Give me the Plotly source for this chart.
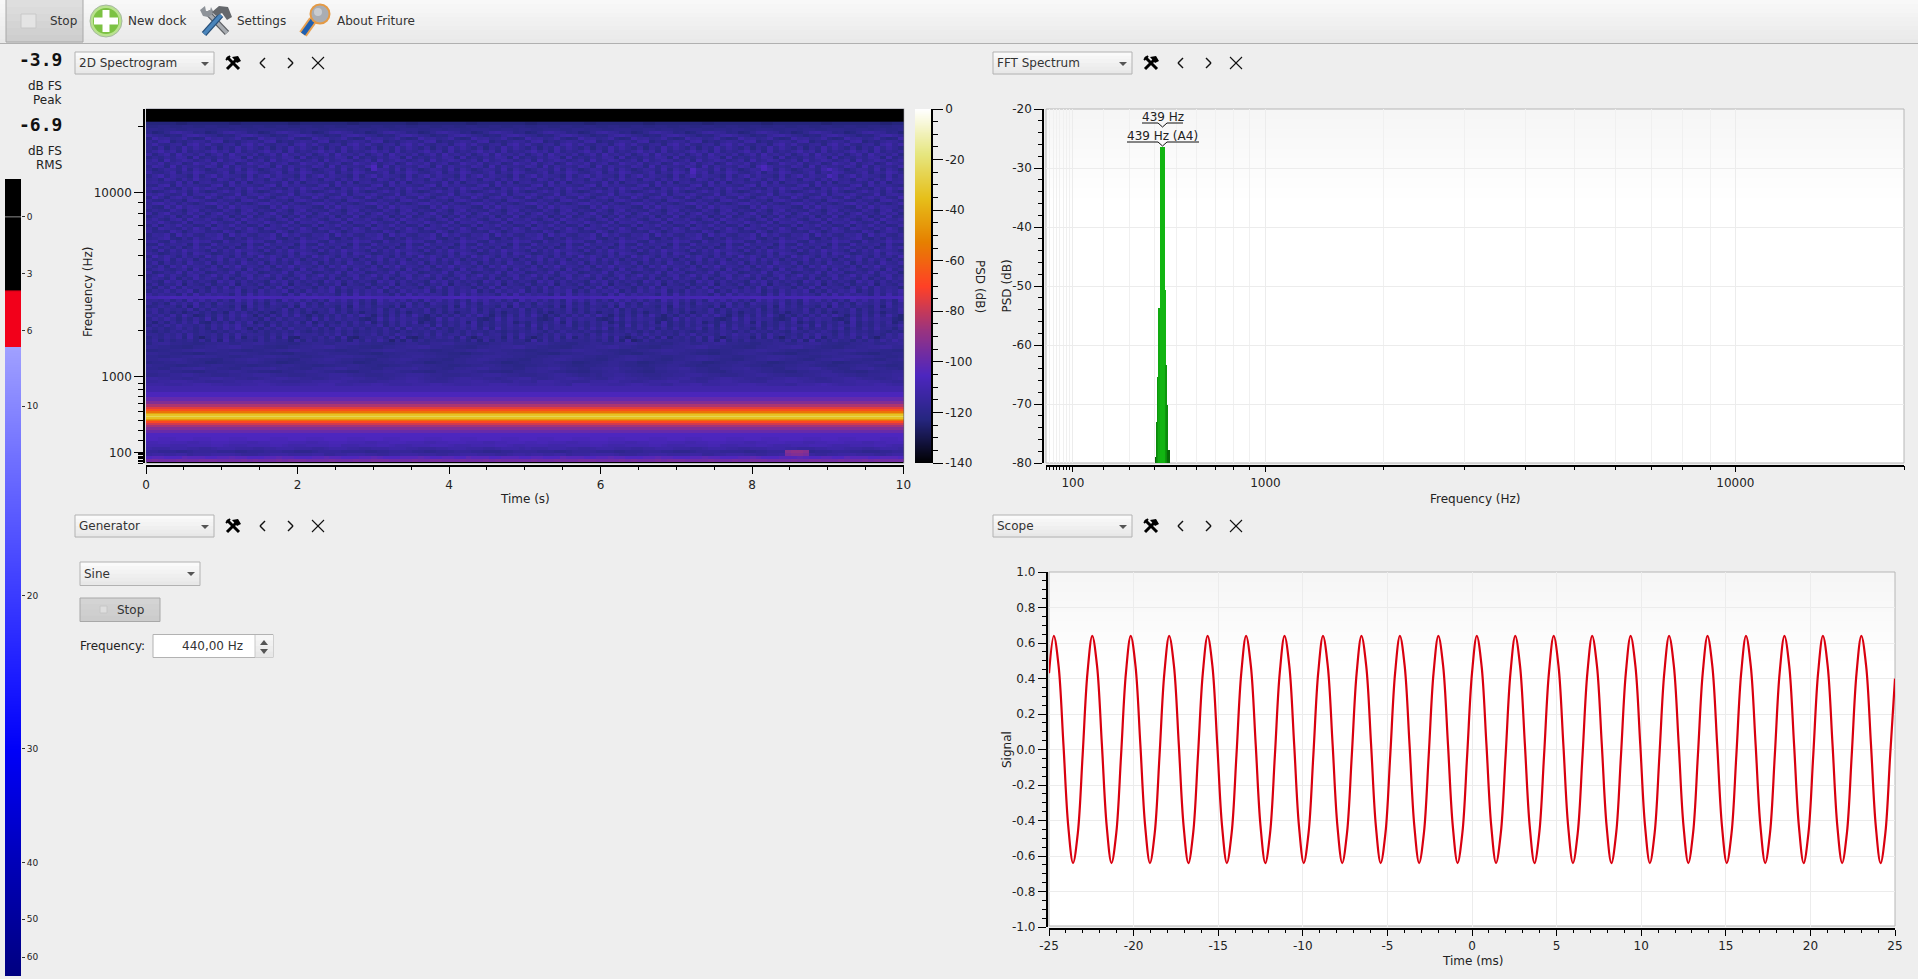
import math
import plotly.graph_objects as go

W, H = 1918, 979

# level meter: label, position on the meter scale
meter_labels = ["0", "3", "6", "10", "20", "30", "40", "50", "60"]
meter_scale = [0, 3, 6, 10, 20, 28.1, 34.1, 37.1, 39.1]
meter_peak = 3.9
meter_rms = 6.9
meter_grad = [6.9, 8, 10, 13, 16, 20, 24, 28, 31, 34, 37, 40.1]

# spectrogram rows (Hz, dB), low to high. The digit strings are a by-eye estimate
# of the noise mottling, one digit per time block, 5 = row level
spec_low_hz = [27, 49, 73, 96, 120, 146, 171, 198]
spec_low_db = [-97, -103, -111, -114, -112, -110, -109, -107]
spec_low_ripple = [
    "5655565556665555656555656665555655565566655556556655565556565555",
    "4554446555445565544455655444556554445565444555654455446555445554",
    "3443344233344443222334443333442233444332233444333223344433322344",
    "4433322344443332233344433222344443333223344443322333444332223344",
    "5444555443345554443344555444334555443344455544333445554443345554",
    "5555444555566544455556654445555664445556654445556665444555566544",
    "5566555445566655544556665554455666555445566655544556665554455666",
    "6655566655566655566665556665556666555666555666655566655566665556",
]
spec_band_hz = [234, 271, 301, 331, 352, 374, 390, 405, 422, 440, 457, 474, 491, 509, 534, 558, 597, 636, 690, 760]
spec_band_db = [-105, -99, -93, -86, -78, -68, -58, -45, -34, -25, -33, -43, -56, -66, -75, -84, -93, -100, -106, -111]
# noise rows sit every 35 mel from 900 mel up
spec_noise_db = [-113, -114, -115, -116, -117, -117, -118, -118, -118, -117, -118, -118, -117, -118, -118, -118,
                 -117, -118, -117, -117, -118, -117, -117, -118, -117, -118, -117, -116, -110, -116, -117, -117,
                 -118, -117, -117, -116, -117, -117, -116, -117, -117, -116, -117, -116, -117, -117, -116, -117,
                 -116, -117, -116, -117, -116, -116, -117, -116, -117, -116, -116, -117, -116, -116, -117, -116,
                 -116, -117, -116, -116, -116, -117, -116, -116, -116, -117, -116, -116, -117, -116, -117, -117,
                 -117, -118, -119, -120, -123, -128]
spec_noise_ripple = [
    "55544455666554445556654444555666444555665444455566554445556665544455544366655544456654433555664445556665544433555676544455566544",
    "44556665443334455566544333445556654433344555665433345556654433544366654433355566443345556644433556654433355566544333445566554433",
    "66554433455665544334556655443345566554433455665443345665544345566433455665443356655443345566433456655443345566554334556654433456",
    "33445566544333445566654433344556665443334455666544333445566654433344566543343556654433344556665443334556654433344566654433445566",
    "55664433224455665443322445566544332244556654433224455665443322445566544332244566544322445566544332455665443322445566443322445566",
    "44335566775544335566675544335566775544335566675544335566775544335566775443355667554433556677544335566755443355667754433566755443",
    "65544334455665544334455665443344556654433445566554433445566544334455665433445566544334556654433445566544334455665443344566544334",
    "34455665442234455665442234455666544223445566544223445566654422344556654422344566544223445665442234556654422344566544223445566544",
    "55667765544335566776554433556677655443355667765544335566776554433556677655443356677655433556677654433556677655433566776554433556",
    "44334455665544334455665544334455666554433445566554433445566655443344556655443344566554433445566554433445566655443344556665544334",
    "66554433224455666554433224455665554433224455666554433224455665554433224455666554332244566655433224456665543322445566655433224455",
    "33445566776655443344556677665544334455667766554433445566776655443344556677665544334556677665544334455667766544334455667766554433",
    "55443322445566775544332244556677554433224455667755443322445566775544332244556677554332244556677554433224455667755433224455667755",
    "36775544335566446677554433556644667755443355664466775544335566446677544335566446677554433566446677554433556644667754433556644667",
    "47263546372819364527364518273645261738495061726354453627182637451928374655463728190273645546372819263745546372819263745263748596",
    "36475829304738291647382910564738291046573829103647582930475618293047382916475829304738291647382930475618293047382916475829304758",
    "55364728354627384655263748556374826354726385463728356274835627384526374856273846527384635274836527485637284635274856273846352748",
    "42536475364253647526354637425364736254637426354637526374536425364752637453642536475263745364253647526374536427536475263745364253",
    "63524736251738495061637284537261847362537281946372514637281936452718364527384916253748162735481627384516273849162537481627384516",
    "26374855362748593647182635473816472635481627354819263748152637481927364815263748192736481527364819273648152736481927364815273648",
    "51627384921637284915263748291635273849162738491527364819263748152736481926374815273648192637481527364819263748152736481926374815",
    "37485162739182736451827364519283746510293847561029384756102938475610293847561029384756102938475610293847561029384756102938475610",
    "64738295016273849506172839405162738495061728394051627384950617283940516273849506172839405162738495061728394051627384950617283940",
    "48362514736251847362514837261548372615483726154837261548372615483726154837261548372615483726154837261548372615483726154837261548",
    "57264538162745381627453816274538162745381627453816274538162745381627453816274538162745381627453816274538162745381627453816274538",
    "34756281947365281947365281947365281947365281947365281947365281947365281947365281947365281947365281947365281947365281947365281947",
    "62518473926185473926185473926185473926185473926185473926185473926185473926185473926185473926185473926185473926185473926185473926",
    "45372619483726194837261948372619483726194837261948372619483726194837261948372619483726194837261948372619483726194837261948372619",
    "55667665566676655667766556667665566677665566676655667766556667665566677665566676655667766556667665566677665566676655667766556667",
    "73645182937465182937465182937465182937465182937465182937465182937465182937465182937465182937465182937465182937465182937465182937",
    "26483759162847591628475916284759162847591628475916284759162847591628475916284759162847591628475916284759162847591628475916284759",
    "51739284651739284651739284651739284651739284651739284651739284651739284651739284651739284651739284651739284651739284651739284651",
    "38264917538264917538264917538264917538264917538264917538264917538264917538264917538264917538264917538264917538264917538264917538",
    "64195827364195827364195827364195827364195827364195827364195827364195827364195827364195827364195827364195827364195827364195827364",
    "47528163947528163947528163947528163947528163947528163947528163947528163947528163947528163947528163947528163947528163947528163947",
    "25937416825937416825937416825937416825937416825937416825937416825937416825937416825937416825937416825937416825937416825937416825",
    "71364928571364928571364928571364928571364928571364928571364928571364928571364928571364928571364928571364928571364928571364928571",
    "36842571936842571936842571936842571936842571936842571936842571936842571936842571936842571936842571936842571936842571936842571936",
    "52718493652718493652718493652718493652718493652718493652718493652718493652718493652718493652718493652718493652718493652718493652",
    "48173629548173629548173629548173629548173629548173629548173629548173629548173629548173629548173629548173629548173629548173629548",
    "63592847163592847163592847163592847163592847163592847163592847163592847163592847163592847163592847163592847163592847163592847163",
    "29485173629485173629485173629485173629485173629485173629485173629485173629485173629485173629485173629485173629485173629485173629",
    "75136482975136482975136482975136482975136482975136482975136482975136482975136482975136482975136482975136482975136482975136482975",
    "41827395641827395641827395641827395641827395641827395641827395641827395641827395641827395641827395641827395641827395641827395641",
    "58362714958362714958362714958362714958362714958362714958362714958362714958362714958362714958362714958362714958362714958362714958",
    "32946571832946571832946571832946571832946571832946571832946571832946571832946571832946571832946571832946571832946571832946571832",
    "67218345967218345967218345967218345967218345967218345967218345967218345967218345967218345967218345967218345967218345967218345967",
    "45793162845793162845793162845793162845793162845793162845793162845793162845793162845793162845793162845793162845793162845793162845",
    "26581947326581947326581947326581947326581947326581947326581947326581947326581947326581947326581947326581947326581947326581947326",
    "73429615873429615873429615873429615873429615873429615873429615873429615873429615873429615873429615873429615873429615873429615873",
    "51864273951864273951864273951864273951864273951864273951864273951864273951864273951864273951864273951864273951864273951864273951",
    "38175946238175946238175946238175946238175946238175946238175946238175946238175946238175946238175946238175946238175946238175946238",
    "64952381764952381764952381764952381764952381764952381764952381764952381764952381764952381764952381764952381764952381764952381764",
    "47316829547316829547316829547316829547316829547316829547316829547316829547316829547316829547316829547316829547316829547316829547",
    "25748163925748163925748163925748163925748163925748163925748163925748163925748163925748163925748163925748163925748163925748163925",
    "71693528471693528471693528471693528471693528471693528471693528471693528471693528471693528471693528471693528471693528471693528471",
    "36428517936428517936428517936428517936428517936428517936428517936428517936428517936428517936428517936428517936428517936428517936",
    "52183947652183947652183947652183947652183947652183947652183947652183947652183947652183947652183947652183947652183947652183947652",
    "48957263148957263148957263148957263148957263148957263148957263148957263148957263148957263148957263148957263148957263148957263148",
    "63274518963274518963274518963274518963274518963274518963274518963274518963274518963274518963274518963274518963274518963274518963",
    "29516847329516847329516847329516847329516847329516847329516847329516847329516847329516847329516847329516847329516847329516847329",
    "75842391675842391675842391675842391675842391675842391675842391675842391675842391675842391675842391675842391675842391675842391675",
    "41369572841369572841369572841369572841369572841369572841369572841369572841369572841369572841369572841369572841369572841369572841",
    "58624173958624173958624173958624173958624173958624173958624173958624173958624173958624173958624173958624173958624173958624173958",
    "32791846532791846532791846532791846532791846532791846532791846532791846532791846532791846532791846532791846532791846532791846532",
    "67453928167453928167453928167453928167453928167453928167453928167453928167453928167453928167453928167453928167453928167453928167",
    "45186273945186273945186273945186273945186273945186273945186273945186273945186273945186273945186273945186273945186273945186273945",
    "26937541826937541826937541826937541826937541826937541826937541826937541826937541826937541826937541826937541826937541826937541826",
    "73258164973258164973258164973258164973258164973258164973258164973258164973258164973258164973258164973258164973258164973258164973",
    "51476392851476392851476392851476392851476392851476392851476392851476392851476392851476392851476392851476392851476392851476392851",
    "38619274538619274538619274538619274538619274538619274538619274538619274538619274538619274538619274538619274538619274538619274538",
    "64825713964825713964825713964825713964825713964825713964825713964825713964825713964825713964825713964825713964825713964825713964",
    "47193586247193586247193586247193586247193586247193586247193586247193586247193586247193586247193586247193586247193586247193586247",
    "25364871925364871925364871925364871925364871925364871925364871925364871925364871925364871925364871925364871925364871925364871925",
    "71582946371582946371582946371582946371582946371582946371582946371582946371582946371582946371582946371582946371582946371582946371",
    "36947182536947182536947182536947182536947182536947182536947182536947182536947182536947182536947182536947182536947182536947182536",
    "52716394852716394852716394852716394852716394852716394852716394852716394852716394852716394852716394852716394852716394852716394852",
    "48325617948325617948325617948325617948325617948325617948325617948325617948325617948325617948325617948325617948325617948325617948",
    "63891425763891425763891425763891425763891425763891425763891425763891425763891425763891425763891425763891425763891425763891425763",
    "29674583129674583129674583129674583129674583129674583129674583129674583129674583129674583129674583129674583129674583129674583129",
    "75413268975413268975413268975413268975413268975413268975413268975413268975413268975413268975413268975413268975413268975413268975",
    "41258976341258976341258976341258976341258976341258976341258976341258976341258976341258976341258976341258976341258976341258976341",
    "55455445554455455445554455455445554455455445554455455445554455455445554455455445554455455445554455455445554455455445554455455445",
    "44554455445544554455445544554455445544554455445544554455445544554455445544554455445544554455445544554455445544554455445544554455",
    "55555445555555445555555544555555554455555555445555555544555555554455555555445555555544555555554455555555445555555544555555554455",
]
spec_top_hz = [21200, 22000, 23000, 24000]
spec_top_db = [-135, -140, -140, -140]
spec_cols = 128
# faint bursts and the low hum blob: time (s), frequency (Hz), level (dB)
event_t = [3.0, 3.0, 7.2, 7.2, 8.2, 8.2, 9.0, 9.0, 8.5, 8.58, 8.66, 8.74, 8.5, 8.58, 8.66, 8.74]
event_hz = [12900, 12400, 12500, 12000, 12900, 12400, 12400, 11900, 96, 96, 96, 96, 73, 73, 73, 73]
event_db = [-106, -107, -106, -107, -106, -107, -106, -107, -92, -90, -90, -92, -95, -93, -93, -95]

cbar_db = [-140, -135, -130, -125, -120, -115, -110, -105, -100, -95, -90, -85, -80, -75, -70,
           -65, -60, -55, -50, -45, -40, -35, -30, -25, -20, -15, -10, -5, 0]

# FFT bars: bin low edge, high edge (Hz), level (dB)
fft_lo = [401, 410, 416, 419, 426.5, 447, 450.5, 453.5, 460.5]
fft_hi = [410, 416, 419, 426.5, 447, 450.5, 453.5, 460.5, 468]
fft_db = [-79, -73, -65.4, -53.7, -26.4, -50.7, -63.4, -70.2, -77.8]

freq_major = [100, 1000, 10000]
freq_minor = [20, 30, 40, 50, 60, 70, 80, 90, 200, 300, 400, 500, 600, 700, 800, 900,
              2000, 3000, 4000, 5000, 6000, 7000, 8000, 9000, 20000]

# scope trace, one sample every 0.2841 ms starting at -25 ms
scope_dt = 0.28409
scope_y = [
    0.43, 0.64, 0.47, 0.03, -0.43, -0.64, -0.47, -0.03,
    0.43, 0.64, 0.47, 0.03, -0.43, -0.64, -0.47, -0.03,
    0.43, 0.64, 0.47, 0.03, -0.43, -0.64, -0.47, -0.03,
    0.43, 0.64, 0.47, 0.03, -0.43, -0.64, -0.47, -0.03,
    0.43, 0.64, 0.47, 0.03, -0.43, -0.64, -0.47, -0.03,
    0.43, 0.64, 0.47, 0.03, -0.43, -0.64, -0.47, -0.03,
    0.43, 0.64, 0.47, 0.03, -0.43, -0.64, -0.47, -0.03,
    0.43, 0.64, 0.47, 0.03, -0.43, -0.64, -0.47, -0.03,
    0.43, 0.64, 0.47, 0.03, -0.43, -0.64, -0.47, -0.03,
    0.43, 0.64, 0.47, 0.03, -0.43, -0.64, -0.47, -0.03,
    0.43, 0.64, 0.47, 0.03, -0.43, -0.64, -0.47, -0.03,
    0.43, 0.64, 0.47, 0.03, -0.43, -0.64, -0.47, -0.03,
    0.43, 0.64, 0.47, 0.03, -0.43, -0.64, -0.47, -0.03,
    0.43, 0.64, 0.47, 0.03, -0.43, -0.64, -0.47, -0.03,
    0.43, 0.64, 0.47, 0.03, -0.43, -0.64, -0.47, -0.03,
    0.43, 0.64, 0.47, 0.03, -0.43, -0.64, -0.47, -0.03,
    0.43, 0.64, 0.47, 0.03, -0.43, -0.64, -0.47, -0.03,
    0.43, 0.64, 0.47, 0.03, -0.43, -0.64, -0.47, -0.03,
    0.43, 0.64, 0.47, 0.03, -0.43, -0.64, -0.47, -0.03,
    0.43, 0.64, 0.47, 0.03, -0.43, -0.64, -0.47, -0.03,
    0.43, 0.64, 0.47, 0.03, -0.43, -0.64, -0.47, -0.03,
    0.43, 0.64, 0.47, 0.03, -0.43, -0.64, -0.47, -0.03,
    0.40,
]

FONT = "DejaVu Sans"
MONO = "DejaVu Sans Mono"
INK = "#222222"
BG = "#eeeeee"

CMRMAP = [[0, "rgb(0,0,0)"], [0.125, "rgb(38,38,128)"], [0.25, "rgb(77,38,191)"],
          [0.375, "rgb(153,51,128)"], [0.5, "rgb(255,64,38)"], [0.625, "rgb(230,128,0)"],
          [0.75, "rgb(230,191,26)"], [0.875, "rgb(230,230,128)"], [1, "rgb(255,255,255)"]]


def mel(f):
    return 2595 * math.log10(1 + f / 700)


def fx(x):
    return x / W


def fy(y):
    return 1 - y / H


shapes = []
notes = []


def box(x0, y0, x1, y1, fill=None, line=None, layer="below"):
    shapes.append(dict(type="rect", xref="paper", yref="paper", x0=fx(x0), x1=fx(x1), y0=fy(y0), y1=fy(y1),
                       fillcolor=fill, line=dict(color=line, width=1 if line else 0), layer=layer))


def seg(x0, y0, x1, y1, color, width=1, layer="below"):
    shapes.append(dict(type="line", xref="paper", yref="paper", x0=fx(x0), x1=fx(x1), y0=fy(y0), y1=fy(y1),
                       line=dict(color=color, width=width), layer=layer))


def poly(points, fill, layer="below"):
    d = "M" + "L".join(f"{fx(x):.5f},{fy(y):.5f}" for x, y in points) + "Z"
    shapes.append(dict(type="path", xref="paper", yref="paper", path=d, fillcolor=fill,
                       line=dict(width=0), layer=layer))


def disc(cx, cy, r, fill, line=None, width=1):
    shapes.append(dict(type="circle", xref="paper", yref="paper", x0=fx(cx - r), x1=fx(cx + r),
                       y0=fy(cy - r), y1=fy(cy + r), fillcolor=fill,
                       line=dict(color=line, width=width if line else 0), layer="below"))


def mix(a, b, t):
    return "rgb(%d,%d,%d)" % tuple(round(p + (q - p) * t) for p, q in zip(a, b))


def vgrad(x0, y0, x1, y1, top, bottom, steps=8):
    for i in range(steps):
        box(x0, y0 + (y1 - y0) * i / steps, x1, y0 + (y1 - y0) * (i + 1) / steps + 0.5,
            mix(top, bottom, i / max(steps - 1, 1)))


def label(x, y, text, size=12, anchor="left", color=INK, angle=0, family=FONT):
    notes.append(dict(xref="paper", yref="paper", x=fx(x), y=fy(y), text=text, showarrow=False,
                      xanchor=anchor, yanchor="middle", textangle=angle, borderpad=0, borderwidth=0,
                      font=dict(family=family, size=size, color=color)))


def combo(x0, y0, x1, y1, text):
    vgrad(x0, y0, x1, y1, (250, 250, 250), (232, 232, 232), 6)
    box(x0, y0, x1, y1, None, "#b2b2b2")
    poly([(x1 - 13, y0 + 10), (x1 - 5, y0 + 10), (x1 - 9, y0 + 14)], "#555555")
    label(x0 + 4, (y0 + y1) / 2, text, 12, color="#333333")


def hammer(cx, cy):
    seg(cx - 6, cy + 6, cx + 3, cy - 3, "black", 3)
    seg(cx - 6, cy - 6, cx + 6, cy + 6, "black", 3)
    poly([(cx - 1, cy - 6), (cx + 5, cy - 7), (cx + 8, cy - 2), (cx + 4, cy)], "black")
    seg(cx - 7, cy - 3, cx - 3, cy - 7, "black", 2)


def dock_header(x0, y0, text):
    combo(x0, y0, x0 + 139, y0 + 22, text)
    cy = y0 + 11
    hammer(x0 + 158, cy)
    seg(x0 + 190, cy - 5, x0 + 185, cy, "#111111", 1.4)
    seg(x0 + 185, cy, x0 + 190, cy + 5, "#111111", 1.4)
    seg(x0 + 213, cy - 5, x0 + 218, cy, "#111111", 1.4)
    seg(x0 + 218, cy, x0 + 213, cy + 5, "#111111", 1.4)
    seg(x0 + 237, cy - 6, x0 + 249, cy + 6, "#111111", 1.1)
    seg(x0 + 249, cy - 6, x0 + 237, cy + 6, "#111111", 1.1)


# toolbar
vgrad(0, 0, W, 43, (248, 248, 248), (233, 233, 233), 10)
seg(0, 43.5, W, 43.5, "#b0b0b0")
vgrad(6, 0, 83, 42, (222, 222, 222), (206, 206, 206), 6)
box(6, -1, 83, 42, None, "#a8a8a8")
box(21, 14, 36, 28, "#e4e4e4", "#c8c8c8")
label(50, 21, "Stop", 12, color="#333333")
disc(106, 21, 16, "#b9e28e", "#a6b8a0", 1)
disc(106, 21, 13, "#7cc243")
box(94, 17.5, 118, 24.5, "white")
box(102.5, 10, 109.5, 32, "white")
label(128, 21, "New dock", 12, color="#333333")
# settings icon: wrench behind, hammer in front
seg(207, 12, 227, 33, "#5c5f63", 6)
seg(207, 12, 227, 33, "#a7abb0", 3.5)
poly([(200, 10), (205, 6), (206, 11), (210, 11), (211, 7), (214, 13), (208, 17), (203, 16)], "#8e9399")
seg(204, 34, 221, 15, "#274f78", 6)
seg(204, 34, 221, 15, "#4a85bb", 3.5)
poly([(212, 12), (219, 6), (228, 7), (232, 17), (227, 20), (222, 13), (216, 16)], "#65686c")
label(237, 21, "Settings", 12, color="#333333")
seg(303, 34, 313, 20, "#e8a050", 9)
seg(303, 34, 313, 20, "#1f5fb0", 5)
disc(320, 14, 9.5, "#a9adb3", "#e49a45", 2)
disc(318, 12, 4, "#c9ccd0")
label(337, 21, "About Friture", 12, color="#333333")

# level readout
label(62, 60, "<b>-3.9</b>", 18, "right", "#111111", family=MONO)
label(62, 86, "dB FS", 12, "right")
label(62, 100, "Peak", 12, "right")
label(62, 125, "<b>-6.9</b>", 18, "right", "#111111", family=MONO)
label(62, 151, "dB FS", 12, "right")
label(62, 165, "RMS", 12, "right")

dock_header(75, 52, "2D Spectrogram")
dock_header(993, 52, "FFT Spectrum")
dock_header(75, 515, "Generator")
dock_header(993, 515, "Scope")

# generator panel
combo(80, 562, 200, 585.5, "Sine")
vgrad(80, 598, 160, 621.5, (212, 212, 212), (204, 204, 204), 4)
box(80, 598, 160, 621.5, None, "#a8a8a8")
box(100, 606, 107, 613, "#dedede", "#c6c6c6")
label(117, 610, "Stop", 12, color="#333333")
label(80, 646, "Frequency:", 12)
box(153, 634.5, 273, 657.5, "white", "#b2b2b2")
vgrad(255, 635, 273, 657, (246, 246, 246), (232, 232, 232), 4)
seg(255, 635, 255, 657, "#c8c8c8")
poly([(260, 645), (268, 645), (264, 640)], "#555555")
poly([(260, 649), (268, 649), (264, 654)], "#555555")
label(243, 646, "440,00 Hz", 12, "right", "#333333")

# plot backgrounds
box(146, 108.5, 904, 463.5, "#000000", "#c4c4cc")
for x0, y0, x1, y1 in [(1046, 109, 1904, 463), (1049, 572, 1895, 926)]:
    box(x0, y0, x1, y1, "white")
    vgrad(x0, y0, x1, y0 + (y1 - y0) * 0.28, (246, 246, 246), (255, 255, 255), 20)
    box(x0, y0, x1, y1, None, "#b6b6b6")

# axis titles
label(88, 292, "Frequency (Hz)", 12, "center", angle=-90)
label(525, 499, "Time (s)", 12, "center")
label(980, 286, "PSD (dB)", 12, "center", angle=90)
label(1006.5, 286, "PSD (dB)", 12, "center", angle=-90)
label(1475, 499, "Frequency (Hz)", 12, "center")
label(1007, 749, "Signal", 12, "center", angle=-90)
label(1473, 961, "Time (ms)", 12, "center")

# peak callouts on the FFT
label(1162.5, 117, "439 Hz", 12, "center")
label(1162.5, 136, "439 Hz (A4)", 12, "center")
for x0, x1, y in [(1142, 1183, 123), (1127, 1199, 142)]:
    seg(x0, y, 1158, y, "#111111", 1, "above")
    seg(1167, y, x1, y, "#111111", 1, "above")
    seg(1158, y, 1162.5, y + 4, "#111111", 1, "above")
    seg(1162.5, y + 4, 1167, y, "#111111", 1, "above")

# build the spectrogram matrix from the rows above
spec_mel = [mel(f) for f in spec_low_hz + spec_band_hz]
spec_mel += [900 + 35 * i for i in range(len(spec_noise_db))]
spec_mel += [mel(f) for f in spec_top_hz]
spec_z = []
for base, s in zip(spec_low_db, spec_low_ripple):
    spec_z.append([base + (int(c) - 5) * 1.5 for c in (s * 2)[:spec_cols]])
for base in spec_band_db:
    spec_z.append([base] * spec_cols)
for base, s in zip(spec_noise_db, spec_noise_ripple):
    spec_z.append([base + (int(c) - 5) * 1.3 for c in (s * 2)[:spec_cols]])
for base in spec_top_db:
    spec_z.append([base] * spec_cols)
for t, hz, db in zip(event_t, event_hz, event_db):
    row = min(range(len(spec_mel)), key=lambda i: abs(spec_mel[i] - mel(hz)))
    spec_z[row][int(t / 10 * spec_cols)] = db

fig = go.Figure()

fig.add_trace(go.Heatmap(z=spec_z, y=spec_mel, x0=10 / spec_cols / 2, dx=10 / spec_cols,
                         zmin=-140, zmax=0, colorscale=CMRMAP, showscale=False, hoverinfo="skip",
                         xaxis="x", yaxis="y"))
fig.add_trace(go.Heatmap(z=[[d, d] for d in cbar_db], y=cbar_db, x=[0, 1], zmin=-140, zmax=0, colorscale=CMRMAP,
                         zsmooth="best", showscale=False, hoverinfo="skip", xaxis="x2", yaxis="y2"))
fig.add_trace(go.Bar(x=[(mel(a) + mel(b)) / 2 for a, b in zip(fft_lo, fft_hi)],
                     width=[mel(b) - mel(a) for a, b in zip(fft_lo, fft_hi)],
                     y=[d + 80 for d in fft_db], base=-80,
                     marker=dict(color=fft_db, cmin=-80, cmax=-50, line=dict(width=0),
                                 colorscale=[[0, "#075c07"], [0.25, "#0a8a0a"], [0.8, "#0fa30f"], [1, "#12b512"]]),
                     hoverinfo="skip", xaxis="x3", yaxis="y3"))
fig.add_trace(go.Scatter(x=[-25 + i * scope_dt for i in range(len(scope_y))], y=scope_y, mode="lines",
                         line=dict(color="#d9000f", width=2.2, shape="spline", smoothing=1),
                         hoverinfo="skip", xaxis="x4", yaxis="y4"))
fig.add_trace(go.Heatmap(z=[[p, p] for p in meter_grad], y=meter_grad, x=[0, 1], zsmooth="best", showscale=False,
                         zmin=6.9, zmax=40.1, hoverinfo="skip", xaxis="x5", yaxis="y5",
                         colorscale=[[0, "#a0a0ff"], [0.18, "#6f6fff"], [0.53, "#1a1aff"], [0.64, "#0000f8"],
                                     [0.82, "#0000b8"], [1, "#000080"]]))
fig.add_trace(go.Bar(x=[0.5, 0.5], y=[meter_peak + 2, meter_rms - meter_peak], base=[-2, meter_peak], width=1,
                     marker=dict(color=["#000000", "#f2001a"], line=dict(width=0)),
                     hoverinfo="skip", xaxis="x5", yaxis="y5"))

shapes.append(dict(type="line", xref="x5", yref="y5", x0=0, x1=1, y0=0, y1=0, line=dict(color="#8c8c8c", width=1)))
shapes.append(dict(type="line", xref="x5", yref="y5", x0=0, x1=1, y0=meter_peak, y1=meter_peak,
                   line=dict(color="#a00010", width=1)))

tick_common = dict(ticks="outside", tickcolor="black", tickwidth=1, showline=True, linecolor="black", linewidth=1.5,
                   zeroline=False, showgrid=False, tickfont=dict(family=FONT, size=12, color=INK),
                   automargin=False, fixedrange=True)
grid_major = {**tick_common, "showgrid": True, "gridcolor": "#ececec"}
hidden = dict(visible=False, fixedrange=True)
spec_dom_x = [fx(146), fx(903.5)]
top_dom_y = [fy(463), fy(109)]
scope_dom_y = [fy(927), fy(572)]
mel_major = [mel(f) for f in freq_major]
mel_minor = [mel(f) for f in freq_minor]
mel_text = [str(f) for f in freq_major]


def hyphen(vals):
    return [("%g" % v) for v in vals]


fig.update_layout(
    width=W, height=H, margin=dict(l=0, r=0, t=0, b=0), autosize=False,
    paper_bgcolor=BG, plot_bgcolor="rgba(0,0,0,0)", showlegend=False,
    font=dict(family=FONT, size=12, color=INK),
    shapes=shapes, annotations=notes, bargap=0,
    xaxis=dict(domain=spec_dom_x, range=[0, 10], anchor="free", position=fy(465.5), tickvals=[0, 2, 4, 6, 8, 10],
               ticklen=8, minor=dict(dtick=0.5, ticks="outside", ticklen=4, tickcolor="black"), **tick_common),
    yaxis=dict(domain=top_dom_y, range=[mel(20), mel(24000)], anchor="free", position=fx(144),
               tickvals=mel_major, ticktext=mel_text, ticklen=9,
               minor=dict(tickmode="array", tickvals=mel_minor, ticks="outside", ticklen=5, tickcolor="black"),
               **tick_common),
    xaxis2=dict(domain=[fx(915), fx(931.5)], range=[0, 1], anchor="y2", **hidden),
    yaxis2=dict(domain=top_dom_y, range=[-140, 0], anchor="free", position=fx(932), side="right",
                tickvals=list(range(-140, 1, 20)), ticktext=hyphen(range(-140, 1, 20)), ticklen=10,
                minor=dict(dtick=5, ticks="outside", ticklen=5, tickcolor="black"), **tick_common),
    xaxis3=dict(domain=[fx(1046), fx(1904)], range=[mel(20), mel(20000)], anchor="free", position=fy(465.5),
                tickvals=mel_major, ticktext=mel_text, ticklen=6,
                minor=dict(tickmode="array", tickvals=mel_minor, ticks="outside", ticklen=4, tickcolor="black",
                           showgrid=True, gridcolor="#f0f0f0", gridwidth=1),
                **grid_major),
    yaxis3=dict(domain=top_dom_y, range=[-80, -20], anchor="free", position=fx(1043),
                tickvals=list(range(-80, -19, 10)), ticktext=hyphen(range(-80, -19, 10)), ticklen=8,
                minor=dict(dtick=2, ticks="outside", ticklen=4, tickcolor="black"),
                **grid_major),
    xaxis4=dict(domain=[fx(1049), fx(1895)], range=[-25, 25], anchor="free", position=fy(929),
                tickvals=list(range(-25, 26, 5)), ticktext=hyphen(range(-25, 26, 5)), ticklen=6,
                minor=dict(dtick=1, ticks="outside", ticklen=3, tickcolor="black"),
                **grid_major),
    yaxis4=dict(domain=scope_dom_y, range=[-1, 1], anchor="free", position=fx(1046.5),
                tickvals=[i / 10 for i in range(-10, 11, 2)],
                ticktext=["%.1f" % (i / 10) for i in range(-10, 11, 2)], ticklen=8,
                minor=dict(dtick=0.05, ticks="outside", ticklen=4, tickcolor="black"),
                **grid_major),
    xaxis5=dict(domain=[fx(5), fx(21)], range=[0, 1], anchor="y5", **hidden),
    yaxis5=dict(domain=[fy(976), fy(179)], range=[40.1, -2], anchor="x5", side="right",
                tickvals=meter_scale, ticktext=meter_labels, ticks="outside", ticklen=3, tickcolor="#333333",
                tickwidth=1, showline=False, showgrid=False, zeroline=False,
                tickfont=dict(family=FONT, size=9, color=INK), fixedrange=True),
)

fig.write_html("out.html", config={"displayModeBar": False},
               post_script="document.body.style.margin='0';document.body.style.overflow='hidden';")
